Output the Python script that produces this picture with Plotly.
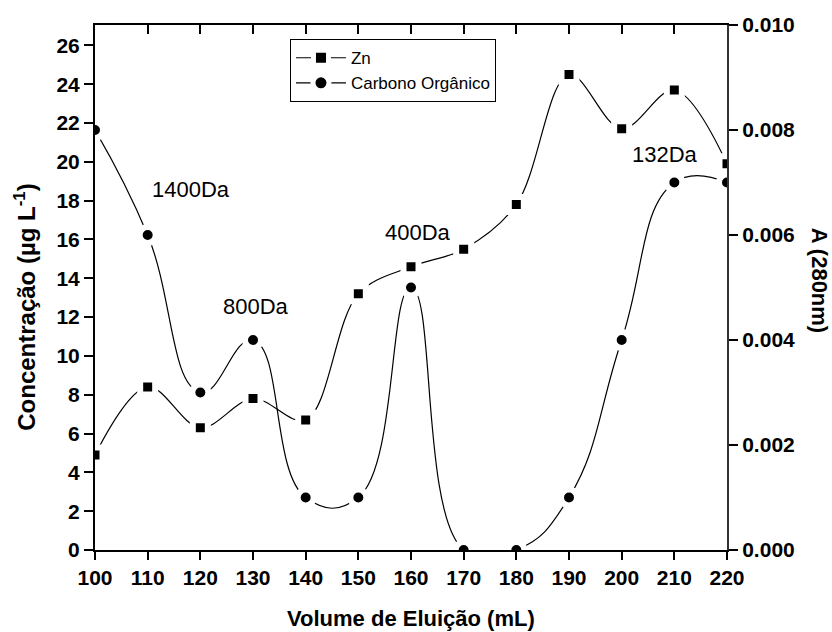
import plotly.graph_objects as go

# Elution volume (mL)
volume = [100, 110, 120, 130, 140, 150, 160, 170, 180, 190, 200, 210, 220]
# Zn concentration (µg L-1), left axis
zn = [4.9, 8.4, 6.3, 7.8, 6.7, 13.2, 14.6, 15.5, 17.8, 24.5, 21.7, 23.7, 19.9]
# Organic carbon absorbance at 280 nm, right axis
carbono = [0.008, 0.006, 0.003, 0.004, 0.001, 0.001, 0.005, 0.000, 0.000,
           0.001, 0.004, 0.007, 0.007]

# Molecular-weight labels placed on the left-axis scale
peak_labels = ["1400Da", "800Da", "400Da", "132Da"]
peak_x = [118.2, 130.6, 161.3, 208.2]
peak_y = [18.6, 12.56, 16.37, 20.4]

FONT = "Liberation Sans"

fig = go.Figure()

fig.add_trace(go.Scatter(
    x=volume, y=zn, name="Zn", mode="lines+markers",
    line=dict(color="black", width=1.2, shape="spline", smoothing=1.0),
    marker=dict(symbol="square", size=15, color="black",
                line=dict(color="white", width=6)),
    xaxis="x", yaxis="y",
))
fig.add_trace(go.Scatter(
    x=volume, y=carbono, name="Carbono Orgânico", mode="lines+markers",
    line=dict(color="black", width=1.2, shape="spline", smoothing=1.3),
    marker=dict(symbol="circle", size=16, color="black",
                line=dict(color="white", width=6)),
    xaxis="x", yaxis="y2",
))
# invisible carrier for the top axis with inward ticks
fig.add_trace(go.Scatter(x=[volume[0], volume[-1]], y=[0, 0], mode="markers",
                         marker=dict(opacity=0), showlegend=False,
                         hoverinfo="skip", xaxis="x2", yaxis="y"))

for txt, px, py in zip(peak_labels, peak_x, peak_y):
    fig.add_annotation(x=px, y=py, xref="x", yref="y", text=txt,
                       showarrow=False, xanchor="center", yanchor="middle",
                       font=dict(family=FONT, size=22, color="black"))

# axis titles
fig.add_annotation(x=0.5, y=-0.131, xref="paper", yref="paper",
                   xanchor="center", yanchor="middle",
                   text="Volume de Eluição (mL)", showarrow=False,
                   font=dict(family=FONT, size=22, color="black", weight="bold"))
fig.add_annotation(x=-0.111, y=0.463, xref="paper", yref="paper",
                   xanchor="center", yanchor="middle",
                   text="Concentração (µg L<sup>-1</sup>)", showarrow=False,
                   textangle=-90,
                   font=dict(family=FONT, size=24, color="black", weight="bold"))
fig.add_annotation(x=1.1456, y=0.513, xref="paper", yref="paper",
                   xanchor="center", yanchor="middle",
                   text="A (280nm)", showarrow=False, textangle=90,
                   font=dict(family=FONT, size=22, color="black", weight="bold"))

tickfont = dict(family=FONT, size=21, color="black", weight="bold")

fig.update_layout(
    width=832, height=632,
    margin=dict(l=95, r=105, t=25, b=82),
    paper_bgcolor="white", plot_bgcolor="white",
    font=dict(family=FONT, color="black"),
    showlegend=True,
    legend=dict(x=0.3085, y=0.973, xanchor="left", yanchor="top",
                bordercolor="black", borderwidth=1, bgcolor="white",
                font=dict(family=FONT, size=17, color="black"),
                itemwidth=50, tracegroupgap=0),
    xaxis=dict(range=[100, 220], dtick=10, tick0=100, showgrid=False, zeroline=False,
               showline=True, linecolor="black", linewidth=2,
               ticks="outside", ticklen=8, tickwidth=2, tickcolor="black",
               tickfont=tickfont),
    xaxis2=dict(range=[100, 220], dtick=10, tick0=100, overlaying="x", side="top",
                showgrid=False, zeroline=False, showline=True, linecolor="black",
                linewidth=2, ticks="inside", ticklen=9, tickwidth=2,
                tickcolor="black", showticklabels=False),
    yaxis=dict(range=[0, 27.05], dtick=2, tick0=0, showgrid=False, zeroline=False,
               showline=True, linecolor="black", linewidth=2,
               ticks="outside", ticklen=9, tickwidth=2, tickcolor="black",
               tickfont=tickfont),
    yaxis2=dict(range=[0, 0.010], dtick=0.002, tick0=0, tickformat=".3f",
                overlaying="y", side="right", showgrid=False, zeroline=False,
                showline=True, linecolor="#333333", linewidth=2,
                ticks="outside", ticklen=9, tickwidth=2, tickcolor="black",
                tickfont=tickfont),
)

fig.write_html("out.html")
